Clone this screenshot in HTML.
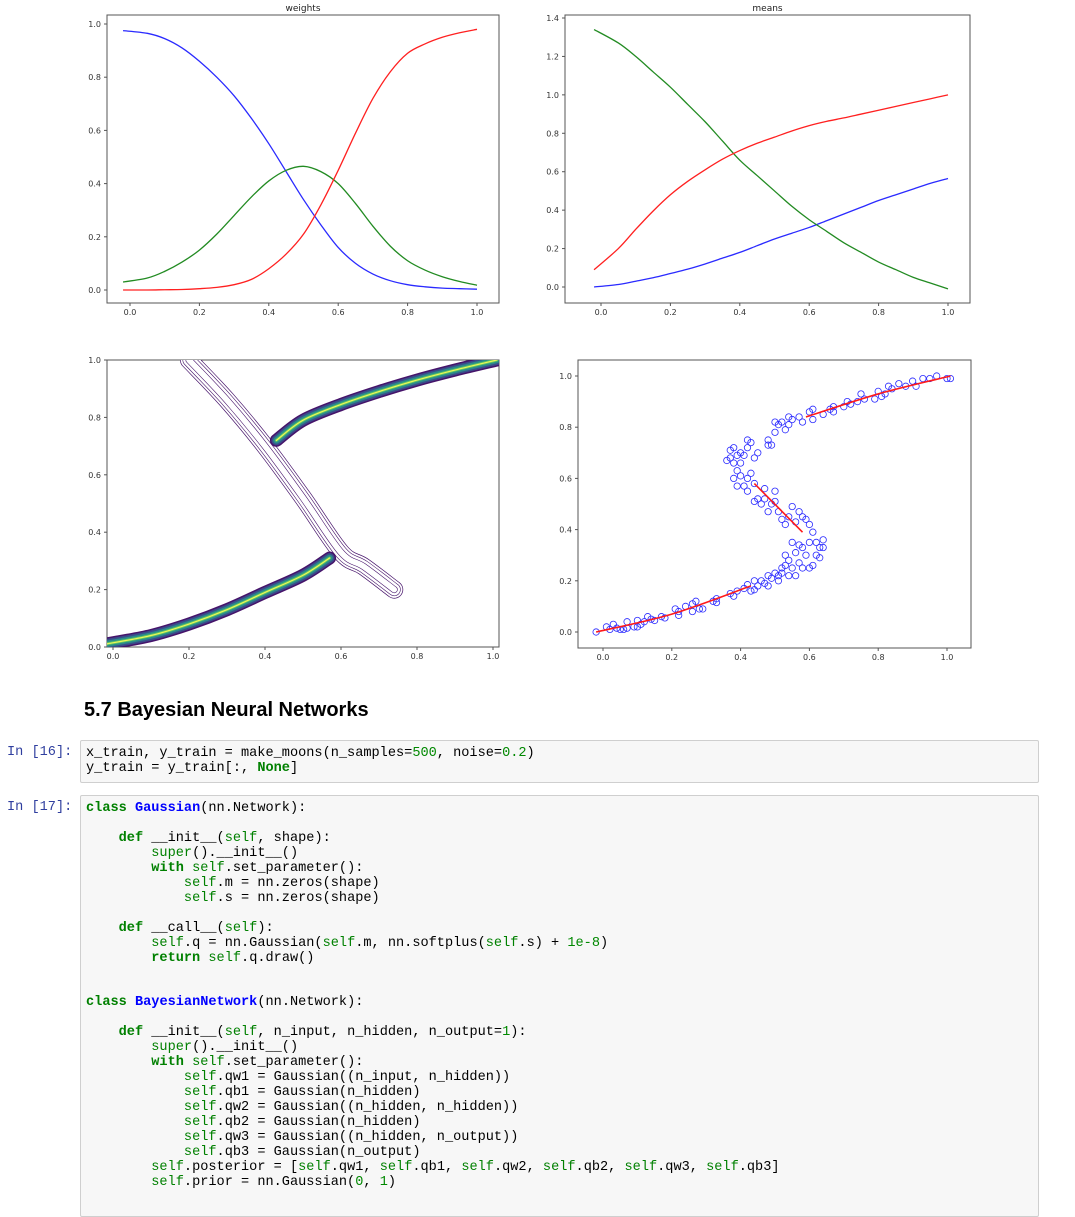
<!DOCTYPE html>
<html><head><meta charset="utf-8">
<style>
body{margin:0;width:1075px;height:1200px;background:#fff;overflow:hidden;position:relative;font-family:"Liberation Sans",sans-serif;}
svg{position:absolute;left:0;top:0;}
h2{position:absolute;left:84px;top:699px;margin:0;font-size:20px;font-weight:bold;color:#000;}
.prompt{position:absolute;left:7px;font-family:"Liberation Mono",monospace;font-size:13.6px;color:#303F9F;}
.cell{position:absolute;left:80px;width:957px;background:#f7f7f7;border:1px solid #cfcfcf;border-radius:2px;}
pre{margin:0;position:absolute;left:5px;font-family:"Liberation Mono",monospace;font-size:13.6px;line-height:14.95px;color:#000;}
.k{color:#008000;font-weight:bold}.c{color:#0000ff;font-weight:bold}.s{color:#008000}.n{color:#080}
</style></head><body>
<svg id="charts" width="1075" height="690"></svg>
<h2>5.7 Bayesian Neural Networks</h2>
<div class="prompt" style="top:745px">In [16]:</div>
<div class="cell" style="top:740px;height:41px"><pre style="top:6px">x_train, y_train = make_moons(n_samples=<span class="n">500</span>, noise=<span class="n">0.2</span>)
y_train = y_train[:, <span class="k">None</span>]</pre></div>
<div class="prompt" style="top:800px">In [17]:</div>
<div class="cell" style="top:795px;height:420px"><pre style="top:6px"><span class="k">class</span> <span class="c">Gaussian</span>(nn.Network):

    <span class="k">def</span> __init__(<span class="s">self</span>, shape):
        <span class="s">super</span>().__init__()
        <span class="k">with</span> <span class="s">self</span>.set_parameter():
            <span class="s">self</span>.m = nn.zeros(shape)
            <span class="s">self</span>.s = nn.zeros(shape)

    <span class="k">def</span> __call__(<span class="s">self</span>):
        <span class="s">self</span>.q = nn.Gaussian(<span class="s">self</span>.m, nn.softplus(<span class="s">self</span>.s) + <span class="n">1e-8</span>)
        <span class="k">return</span> <span class="s">self</span>.q.draw()


<span class="k">class</span> <span class="c">BayesianNetwork</span>(nn.Network):

    <span class="k">def</span> __init__(<span class="s">self</span>, n_input, n_hidden, n_output=<span class="n">1</span>):
        <span class="s">super</span>().__init__()
        <span class="k">with</span> <span class="s">self</span>.set_parameter():
            <span class="s">self</span>.qw1 = Gaussian((n_input, n_hidden))
            <span class="s">self</span>.qb1 = Gaussian(n_hidden)
            <span class="s">self</span>.qw2 = Gaussian((n_hidden, n_hidden))
            <span class="s">self</span>.qb2 = Gaussian(n_hidden)
            <span class="s">self</span>.qw3 = Gaussian((n_hidden, n_output))
            <span class="s">self</span>.qb3 = Gaussian(n_output)
        <span class="s">self</span>.posterior = [<span class="s">self</span>.qw1, <span class="s">self</span>.qb1, <span class="s">self</span>.qw2, <span class="s">self</span>.qb2, <span class="s">self</span>.qw3, <span class="s">self</span>.qb3]
        <span class="s">self</span>.prior = nn.Gaussian(<span class="n">0</span>, <span class="n">1</span>)</pre></div>
<script>
const gridX = [0,0.05,0.1,0.15,0.2,0.25,0.3,0.35,0.4,0.45,0.5,0.55,0.6,0.65,0.7,0.75,0.8,0.85,0.9,0.95,1.0];
const wBlue = [0.975,0.965,0.945,0.91,0.86,0.80,0.73,0.645,0.55,0.445,0.34,0.245,0.16,0.10,0.06,0.035,0.02,0.012,0.007,0.005,0.003];
const wRed = [0.0,0.0,0.001,0.002,0.005,0.01,0.02,0.04,0.08,0.135,0.21,0.32,0.45,0.59,0.72,0.82,0.89,0.925,0.95,0.967,0.98];
const wGreen = [0.03,0.045,0.07,0.105,0.15,0.21,0.28,0.35,0.41,0.45,0.465,0.445,0.40,0.325,0.24,0.165,0.11,0.075,0.05,0.032,0.018];
const mBlue = [0.0,0.013,0.03,0.048,0.07,0.093,0.12,0.15,0.18,0.215,0.25,0.28,0.31,0.345,0.38,0.415,0.45,0.48,0.51,0.54,0.565];
const mRed = [0.09,0.2,0.3,0.395,0.48,0.55,0.61,0.665,0.71,0.748,0.78,0.812,0.84,0.862,0.88,0.9,0.92,0.94,0.96,0.98,1.0];
const mGreen = [1.34,1.27,1.2,1.12,1.04,0.95,0.86,0.76,0.66,0.58,0.50,0.42,0.35,0.29,0.23,0.18,0.13,0.09,0.05,0.02,-0.01];
const ticks01 = [0,0.2,0.4,0.6,0.8,1.0];
const ticksMeans = [0,0.2,0.4,0.6,0.8,1.0,1.2,1.4];
const lowerBand = [[-0.02,0.01],[0.1,0.04],[0.2,0.08],[0.3,0.13],[0.4,0.19],[0.5,0.25],[0.57,0.31]];
const upperBand = [[0.43,0.72],[0.5,0.79],[0.6,0.845],[0.7,0.89],[0.8,0.93],[0.9,0.965],[1.01,1.0]];
const diagBand = [[0.2,1.0],[0.3,0.86],[0.4,0.7],[0.5,0.52],[0.6,0.33],[0.66,0.28],[0.74,0.2]];
const fitSegs = [[[-0.02,0],[0.2,0.07],[0.43,0.18]],[[0.44,0.58],[0.58,0.39]],[[0.59,0.84],[0.8,0.93],[1.01,1.0]]];
const ptsX = [-0.02,0.01,0.02,0.03,0.04,0.05,0.06,0.07,0.07,0.09,0.1,0.1,0.11,0.12,0.13,0.14,0.15,0.17,0.18,0.21,0.22,0.22,0.24,0.26,0.26,0.27,0.28,0.29,0.32,0.33,0.33,0.37,0.38,0.39,0.41,0.42,0.43,0.44,0.44,0.45,0.46,0.47,0.48,0.48,0.49,0.5,0.51,0.51,0.52,0.52,0.53,0.53,0.54,0.54,0.55,0.55,0.56,0.56,0.57,0.57,0.58,0.58,0.59,0.6,0.6,0.61,0.62,0.63,0.63,0.64,0.64,0.62,0.61,0.6,0.59,0.58,0.57,0.56,0.55,0.54,0.53,0.52,0.51,0.5,0.5,0.49,0.48,0.47,0.47,0.46,0.45,0.44,0.44,0.43,0.42,0.42,0.41,0.4,0.4,0.39,0.39,0.38,0.38,0.37,0.36,0.37,0.38,0.39,0.4,0.41,0.42,0.42,0.43,0.44,0.45,0.48,0.48,0.49,0.5,0.5,0.51,0.52,0.53,0.54,0.54,0.55,0.57,0.58,0.6,0.61,0.61,0.64,0.66,0.67,0.67,0.7,0.71,0.72,0.74,0.75,0.76,0.79,0.8,0.81,0.82,0.83,0.84,0.86,0.88,0.9,0.91,0.93,0.95,0.97,1.0,1.01];
const ptsY = [0,0.02,0.01,0.03,0.015,0.01,0.01,0.04,0.015,0.02,0.02,0.045,0.03,0.04,0.06,0.05,0.045,0.06,0.055,0.09,0.065,0.08,0.1,0.08,0.11,0.12,0.09,0.09,0.12,0.13,0.115,0.15,0.14,0.16,0.17,0.185,0.16,0.165,0.2,0.18,0.2,0.19,0.22,0.18,0.21,0.23,0.2,0.22,0.25,0.23,0.26,0.3,0.22,0.28,0.25,0.35,0.22,0.31,0.34,0.27,0.33,0.25,0.3,0.25,0.35,0.26,0.3,0.33,0.29,0.36,0.33,0.35,0.39,0.42,0.44,0.45,0.47,0.43,0.49,0.45,0.42,0.44,0.47,0.51,0.55,0.5,0.47,0.52,0.56,0.5,0.52,0.51,0.58,0.62,0.55,0.6,0.57,0.61,0.66,0.63,0.57,0.66,0.6,0.68,0.67,0.71,0.72,0.69,0.7,0.69,0.72,0.75,0.74,0.68,0.7,0.73,0.75,0.73,0.78,0.82,0.81,0.82,0.79,0.84,0.81,0.83,0.84,0.82,0.86,0.87,0.83,0.85,0.87,0.88,0.86,0.88,0.9,0.89,0.9,0.93,0.91,0.91,0.94,0.92,0.93,0.96,0.95,0.97,0.96,0.98,0.96,0.99,0.99,1.0,0.99,0.99];

const NS='http://www.w3.org/2000/svg';
const svg=document.getElementById('charts');
function mk(tag,attrs,parent){const e=document.createElementNS(NS,tag);for(const k in attrs)e.setAttribute(k,attrs[k]);(parent||svg).appendChild(e);return e;}
function makeAxes(name,box,x0px,x1px,y0px,y1val,y1px,xt,yt,title){
  const g=mk('g',{});
  
  
  const sx=v=>x0px+(x1px-x0px)*v;
  const sy=v=>y0px+(y1px-y0px)*v/y1val;
  const r=mk('rect',{x:box[0],y:box[1],width:box[2]-box[0],height:box[3]-box[1],fill:'#fff',stroke:'#555','stroke-width':1},g);
  
  
  xt.forEach(v=>{const X=sx(v);mk('line',{x1:X,x2:X,y1:box[3],y2:box[3]+3,stroke:'#555'},g);
    const t=mk('text',{x:X,y:box[3]+12,'font-size':8,'text-anchor':'middle',fill:'#333','font-family':'DejaVu Sans, sans-serif'},g);t.textContent=v.toFixed(1);
    
    });
  yt.forEach(v=>{const Y=sy(v);mk('line',{x1:box[0]-3,x2:box[0],y1:Y,y2:Y,stroke:'#555'},g);
    const t=mk('text',{x:box[0]-6,y:Y+3,'font-size':8,'text-anchor':'end',fill:'#333','font-family':'DejaVu Sans, sans-serif'},g);t.textContent=v.toFixed(1);
    
    });
  if(title){const t=mk('text',{x:(box[0]+box[2])/2,y:box[1]-4,'font-size':9,'text-anchor':'middle',fill:'#222','font-family':'DejaVu Sans, sans-serif'},g);t.textContent=title;
    
    }
  const clipId=name+'-clip';const cp=mk('clipPath',{id:clipId},g);mk('rect',{x:box[0],y:box[1],width:box[2]-box[0],height:box[3]-box[1]},cp);
  const plot=mk('g',{'clip-path':'url(#'+clipId+')'},g);
  return {sx,sy,g:plot};
}
function smoothPath(pts){
  let d='M'+pts[0][0]+','+pts[0][1];
  for(let i=0;i<pts.length-1;i++){const p0=pts[Math.max(0,i-1)],p1=pts[i],p2=pts[i+1],p3=pts[Math.min(pts.length-1,i+2)];
    d+=' C'+(p1[0]+(p2[0]-p0[0])/6)+','+(p1[1]+(p2[1]-p0[1])/6)+' '+(p2[0]-(p3[0]-p1[0])/6)+','+(p2[1]-(p3[1]-p1[1])/6)+' '+p2[0]+','+p2[1];}
  return d;}
function series(ax,xs,ys,color,name,startX){
  const pts=xs.map((x,i)=>[ax.sx(i===0?startX:x),ax.sy(ys[i])]);
  const p=mk('path',{d:smoothPath(pts),fill:'none',stroke:color,'stroke-width':1.3},ax.g);
  
  
}
const A1=makeAxes('weights-chart',[107,15,499,303],130,477,290,1,24,ticks01,ticks01,'weights');
series(A1,gridX,wBlue,'#2a2aff','weights-blue-line',-0.02);
series(A1,gridX,wGreen,'#228b22','weights-green-line',-0.02);
series(A1,gridX,wRed,'#ff2020','weights-red-line',-0.02);
const A2=makeAxes('means-chart',[565,15,970,303],601,948,287,1.4,18,ticks01,ticksMeans,'means');
series(A2,gridX,mBlue,'#2a2aff','means-blue-line',-0.02);
series(A2,gridX,mGreen,'#228b22','means-green-line',-0.02);
series(A2,gridX,mRed,'#ff2020','means-red-line',-0.02);
const A3=makeAxes('contour-chart',[107,360,499,647],113,493,647,1,360,ticks01,ticks01,null);
function band(ax,arr,layers,name,cap){
  const d=smoothPath(arr.map(p=>[ax.sx(p[0]),ax.sy(p[1])]));
  layers.forEach(l=>{const p=mk('path',{d:d,fill:'none',stroke:l[1],'stroke-width':l[0],'stroke-linecap':cap,'stroke-linejoin':'round'},ax.g);
    
    });
}
const purple='#46136a';
band(A3,diagBand,[[18,purple],[16.6,'#fff'],[13,purple],[11.8,'#fff'],[7,purple],[5.8,'#fff']],'contour-diagonal','round');
band(A3,lowerBand,[[13,purple],[10,'#3b4b8a'],[6.5,'#2a8a8a'],[3,'#5ec962'],[1.2,'#eef55a']],'contour-lower-band','round');
band(A3,upperBand,[[13,purple],[10,'#3b4b8a'],[6.5,'#2a8a8a'],[3,'#5ec962'],[1.2,'#eef55a']],'contour-upper-band','round');
const A4=makeAxes('scatter-chart',[578,360,971,648],603,947,632,1,376,ticks01,ticks01,null);
ptsX.forEach((x,i)=>{const c=mk('circle',{cx:A4.sx(x),cy:A4.sy(ptsY[i]),r:3.2,fill:'none',stroke:'#2a2aff','stroke-width':0.8},A4.g);
  
  });
fitSegs.forEach(seg=>{const p=mk('path',{d:smoothPath(seg.map(q=>[A4.sx(q[0]),A4.sy(q[1])])),fill:'none',stroke:'#ff1a1a','stroke-width':1.6},A4.g);
  
  });
</script>
</body></html>
